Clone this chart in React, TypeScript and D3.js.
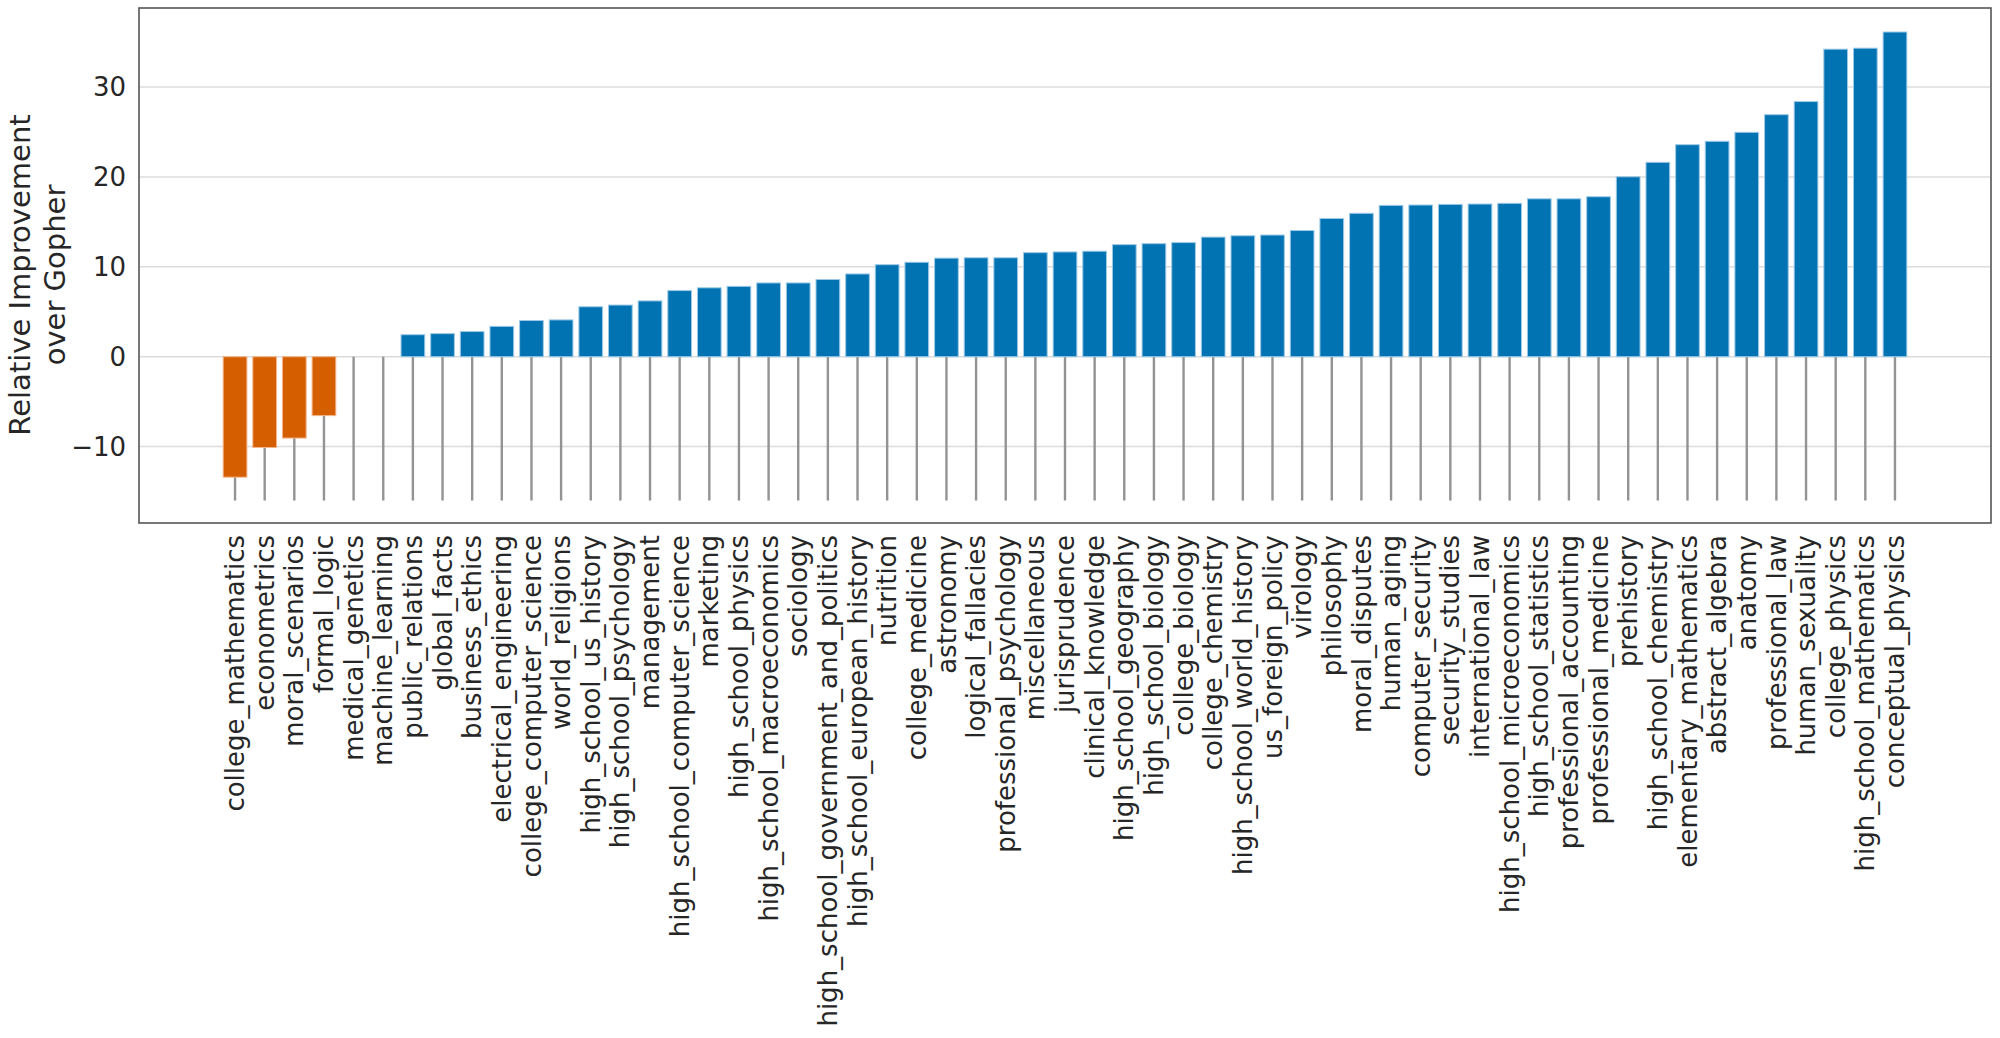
import * as d3 from "d3";
import { useEffect, useRef } from "react";

// MMLU subjects, sorted by improvement
const subjects = [
  "college_mathematics", "econometrics", "moral_scenarios", "formal_logic",
  "medical_genetics", "machine_learning", "public_relations", "global_facts",
  "business_ethics", "electrical_engineering", "college_computer_science",
  "world_religions", "high_school_us_history", "high_school_psychology",
  "management", "high_school_computer_science", "marketing",
  "high_school_physics", "high_school_macroeconomics", "sociology",
  "high_school_government_and_politics", "high_school_european_history",
  "nutrition", "college_medicine", "astronomy", "logical_fallacies",
  "professional_psychology", "miscellaneous", "jurisprudence",
  "clinical_knowledge", "high_school_geography", "high_school_biology",
  "college_biology", "college_chemistry", "high_school_world_history",
  "us_foreign_policy", "virology", "philosophy", "moral_disputes",
  "human_aging", "computer_security", "security_studies", "international_law",
  "high_school_microeconomics", "high_school_statistics",
  "professional_accounting", "professional_medicine", "prehistory",
  "high_school_chemistry", "elementary_mathematics", "abstract_algebra",
  "anatomy", "professional_law", "human_sexuality", "college_physics",
  "high_school_mathematics", "conceptual_physics",
];

const improvement = [
  -13.4, -10.1, -9.05, -6.55, 0, 0, 2.45, 2.57, 2.8, 3.38, 4.03, 4.1, 5.56,
  5.75, 6.21, 7.36, 7.67, 7.83, 8.21, 8.21, 8.59, 9.21, 10.24, 10.51, 10.97,
  11.01, 11.01, 11.58, 11.66, 11.74, 12.47, 12.58, 12.7, 13.31, 13.46, 13.54,
  14.04, 15.38, 15.96, 16.84, 16.88, 16.95, 16.99, 17.07, 17.57, 17.57, 17.8,
  20.02, 21.63, 23.59, 23.97, 24.97, 26.93, 28.39, 34.22, 34.33, 36.13,
];

const yTicks = [-10, 0, 10, 20, 30];
const stemBottom = -16;

const W = 2000;
const H = 1038;
const box = { left: 139, right: 1991, top: 8, bottom: 523 };

const App = () => {
  const svgRef = useRef<SVGSVGElement | null>(null);

  useEffect(() => {
    const svg = d3.select(svgRef.current);
    svg.selectAll("*").remove();

    const x = d3.scaleBand()
      .domain(subjects)
      .range([box.left, box.right])
      .paddingInner(0.2)
      .paddingOuter(2.84);

    const y = d3.scaleLinear()
      .domain([-18.5, 38.8])
      .range([box.bottom, box.top]);

    const mid = (s: string) => (x(s) ?? 0) + x.bandwidth() / 2;

    // grid
    svg.append("g")
      .selectAll("line")
      .data(yTicks)
      .join("line")
      .attr("x1", box.left)
      .attr("x2", box.right)
      .attr("y1", d => y(d))
      .attr("y2", d => y(d))
      .attr("stroke", "#dcdcdc")
      .attr("stroke-width", 1.5);

    // stems under the bars
    svg.append("g")
      .selectAll("line")
      .data(subjects)
      .join("line")
      .attr("x1", d => mid(d))
      .attr("x2", d => mid(d))
      .attr("y1", y(0))
      .attr("y2", y(stemBottom))
      .attr("stroke", "#939393")
      .attr("stroke-width", 2.4);

    // bars
    svg.append("g")
      .selectAll("rect")
      .data(subjects.map((s, i) => ({ s, v: improvement[i] })).filter(d => d.v !== 0))
      .join("rect")
      .attr("x", d => x(d.s) ?? 0)
      .attr("width", x.bandwidth())
      .attr("y", d => y(Math.max(0, d.v)))
      .attr("height", d => Math.abs(y(d.v) - y(0)))
      .attr("fill", d => (d.v < 0 ? "#d55e00" : "#0173b2"))
      .attr("stroke", d => (d.v < 0 ? "#f4b58a" : "#9ecae8"))
      .attr("stroke-width", 1);

    // frame
    svg.append("rect")
      .attr("x", box.left)
      .attr("y", box.top)
      .attr("width", box.right - box.left)
      .attr("height", box.bottom - box.top)
      .attr("fill", "none")
      .attr("stroke", "#555555")
      .attr("stroke-width", 1.6);

    const font = "'DejaVu Sans', sans-serif";

    // y tick labels
    svg.append("g")
      .selectAll("text")
      .data(yTicks)
      .join("text")
      .attr("x", box.left - 13)
      .attr("y", d => y(d))
      .attr("dy", "0.35em")
      .attr("text-anchor", "end")
      .attr("font-family", font)
      .attr("font-size", 26)
      .attr("fill", "#262626")
      .text(d => d3.format("d")(d));

    // x tick labels, vertical
    svg.append("g")
      .selectAll("text")
      .data(subjects)
      .join("text")
      .attr("transform", d => `translate(${mid(d)},${box.bottom + 12}) rotate(-90)`)
      .attr("dy", "0.35em")
      .attr("text-anchor", "end")
      .attr("font-family", font)
      .attr("font-size", 26)
      .attr("fill", "#262626")
      .text(d => d);

    // y axis title
    const title = svg.append("text")
      .attr("transform", `translate(0,275) rotate(-90)`)
      .attr("text-anchor", "middle")
      .attr("font-family", font)
      .attr("font-size", 29)
      .attr("fill", "#262626");
    title.append("tspan").attr("x", 0).attr("y", 30).text("Relative Improvement");
    title.append("tspan").attr("x", 0).attr("y", 65).text("over Gopher");
  }, []);

  return (
    <svg
      ref={svgRef}
      width={W}
      height={H}
      style={{ position: "absolute", left: 0, top: 0, background: "#fff" }}
    ></svg>
  );
};

export default App;
